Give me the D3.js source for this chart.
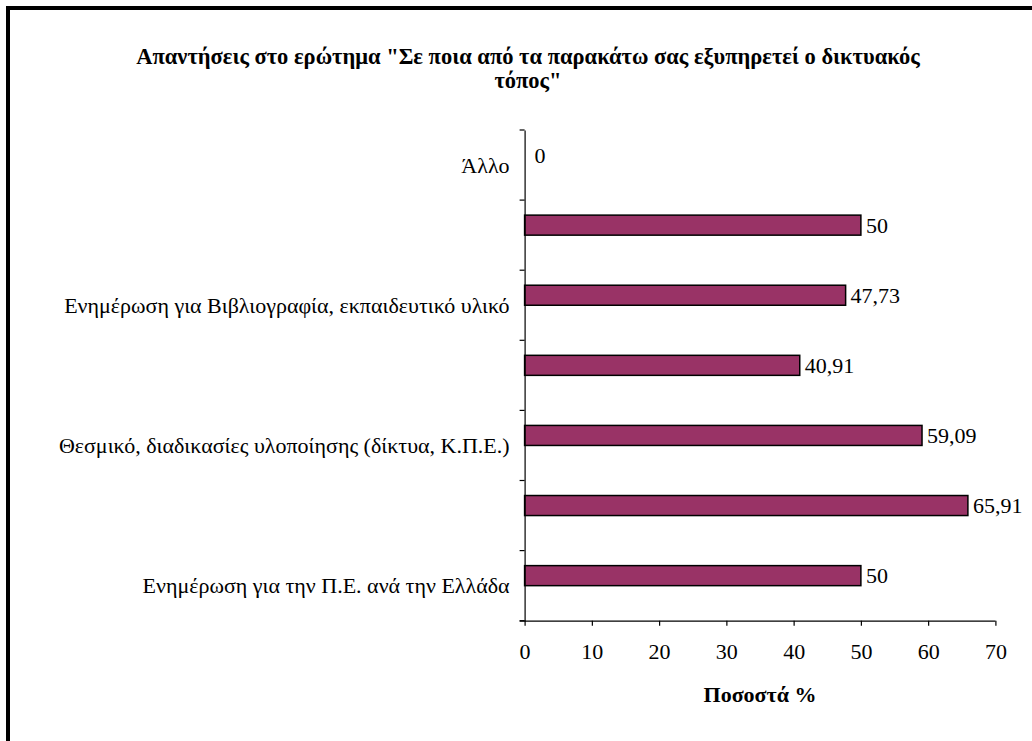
<!DOCTYPE html>
<html><head><meta charset="utf-8">
<script src="https://cdn.jsdelivr.net/npm/d3@7"></script>
<style>
html,body{margin:0;padding:0;background:#fff;}
svg{display:block;}
</style></head>
<body>
<svg id="chart" width="1032" height="741"></svg>
<script>
// Categories from top to bottom (Excel shows only every second label)
const categories = [
  "Άλλο",
  "",
  "Ενημέρωση για Βιβλιογραφία, εκπαιδευτικό υλικό",
  "",
  "Θεσμικό, διαδικασίες υλοποίησης (δίκτυα, Κ.Π.Ε.)",
  "",
  "Ενημέρωση για την Π.Ε. ανά την Ελλάδα"
];
const values = [0, 50, 47.73, 40.91, 59.09, 65.91, 50];
const valueLabels = ["0", "50", "47,73", "40,91", "59,09", "65,91", "50"];
const xTicks = [0, 10, 20, 30, 40, 50, 60, 70];
const titleLines = ["Απαντήσεις στο ερώτημα \"Σε ποια από τα παρακάτω σας εξυπηρετεί ο δικτυακός", "τόπος\""];
const xTitle = "Ποσοστά %";
const seriesSlots = ["s1", "s2"]; // second series empty (Excel gap layout)

const FONT = '"Liberation Serif"';
const svg = d3.select("#chart");
const margin = {left: 524.6, right: 995.4, top: 130, bottom: 620.7};

// outer frame
svg.append("rect").attr("x", 8).attr("y", 8).attr("width", 1060).attr("height", 800)
  .attr("fill", "none").attr("stroke", "#000").attr("stroke-width", 4);

const x = d3.scaleLinear().domain([0, 70]).range([margin.left, margin.right]);
const y = d3.scaleBand().domain(d3.range(categories.length)).range([margin.top, margin.bottom]).padding(0);
const inner = d3.scaleBand().domain(seriesSlots).range([0, y.bandwidth()]).paddingInner(0).paddingOuter(0.75);

const labelSize = "22px";

// title
const title = svg.append("text").attr("text-anchor", "middle")
  .style("font-family", FONT).style("font-weight", "bold").style("font-size", "22.5px");
titleLines.forEach((t, i) => {
  title.append("tspan").attr("x", 528).attr("y", 64 + i * 24).text(t);
});

// bars
svg.append("g").selectAll("rect").data(values).join("rect")
  .attr("x", x(0))
  .attr("y", (d, i) => y(i) + inner("s1"))
  .attr("width", d => x(d) - x(0))
  .attr("height", inner.bandwidth())
  .attr("fill", "#993366")
  .attr("stroke", "#000").attr("stroke-width", 1.5)
  .attr("display", d => d > 0 ? null : "none");

// value labels
svg.append("g").selectAll("text").data(values).join("text")
  .attr("x", d => x(d) + (d > 0 ? 5 : 10))
  .attr("y", (d, i) => y(i) + inner("s1") + inner.bandwidth() / 2)
  .attr("dy", "0.35em")
  .style("font-family", FONT).style("font-size", labelSize)
  .text((d, i) => valueLabels[i]);

// y axis
const yAxis = d3.axisLeft(y).tickSize(0).tickFormat(i => categories[i]);
const gy = svg.append("g").attr("transform", `translate(${x(0)},0)`).call(yAxis);
gy.select(".domain").attr("stroke", "#000").attr("stroke-width", 1.2);
gy.selectAll(".tick text").attr("x", -15).attr("dy", "0.35em")
  .style("font-family", FONT).style("font-size", labelSize).attr("fill", "#000");
// category boundary ticks
svg.append("g").selectAll("line").data(d3.range(categories.length + 1)).join("line")
  .attr("x1", x(0) - 5).attr("x2", x(0))
  .attr("y1", i => margin.top + i * y.step())
  .attr("y2", i => margin.top + i * y.step())
  .attr("stroke", "#000").attr("stroke-width", 1.2);

// x axis
const xAxis = d3.axisBottom(x).tickValues(xTicks).tickSize(5).tickPadding(18).tickFormat(d3.format("d"));
const gx = svg.append("g").attr("transform", `translate(0,${margin.bottom})`).call(xAxis);
gx.select(".domain").attr("d", `M${x(0) - 5},0.5H${x(70)}`).attr("stroke", "#000").attr("stroke-width", 1.2);
gx.selectAll(".tick line").attr("stroke", "#000").attr("stroke-width", 1.2);
gx.selectAll(".tick text").style("font-family", FONT).style("font-size", labelSize).attr("fill", "#000");

// x title
svg.append("text").attr("x", x(35)).attr("y", 702).attr("text-anchor", "middle")
  .style("font-family", FONT).style("font-weight", "bold").style("font-size", "22px").text(xTitle);
</script>
</body></html>
